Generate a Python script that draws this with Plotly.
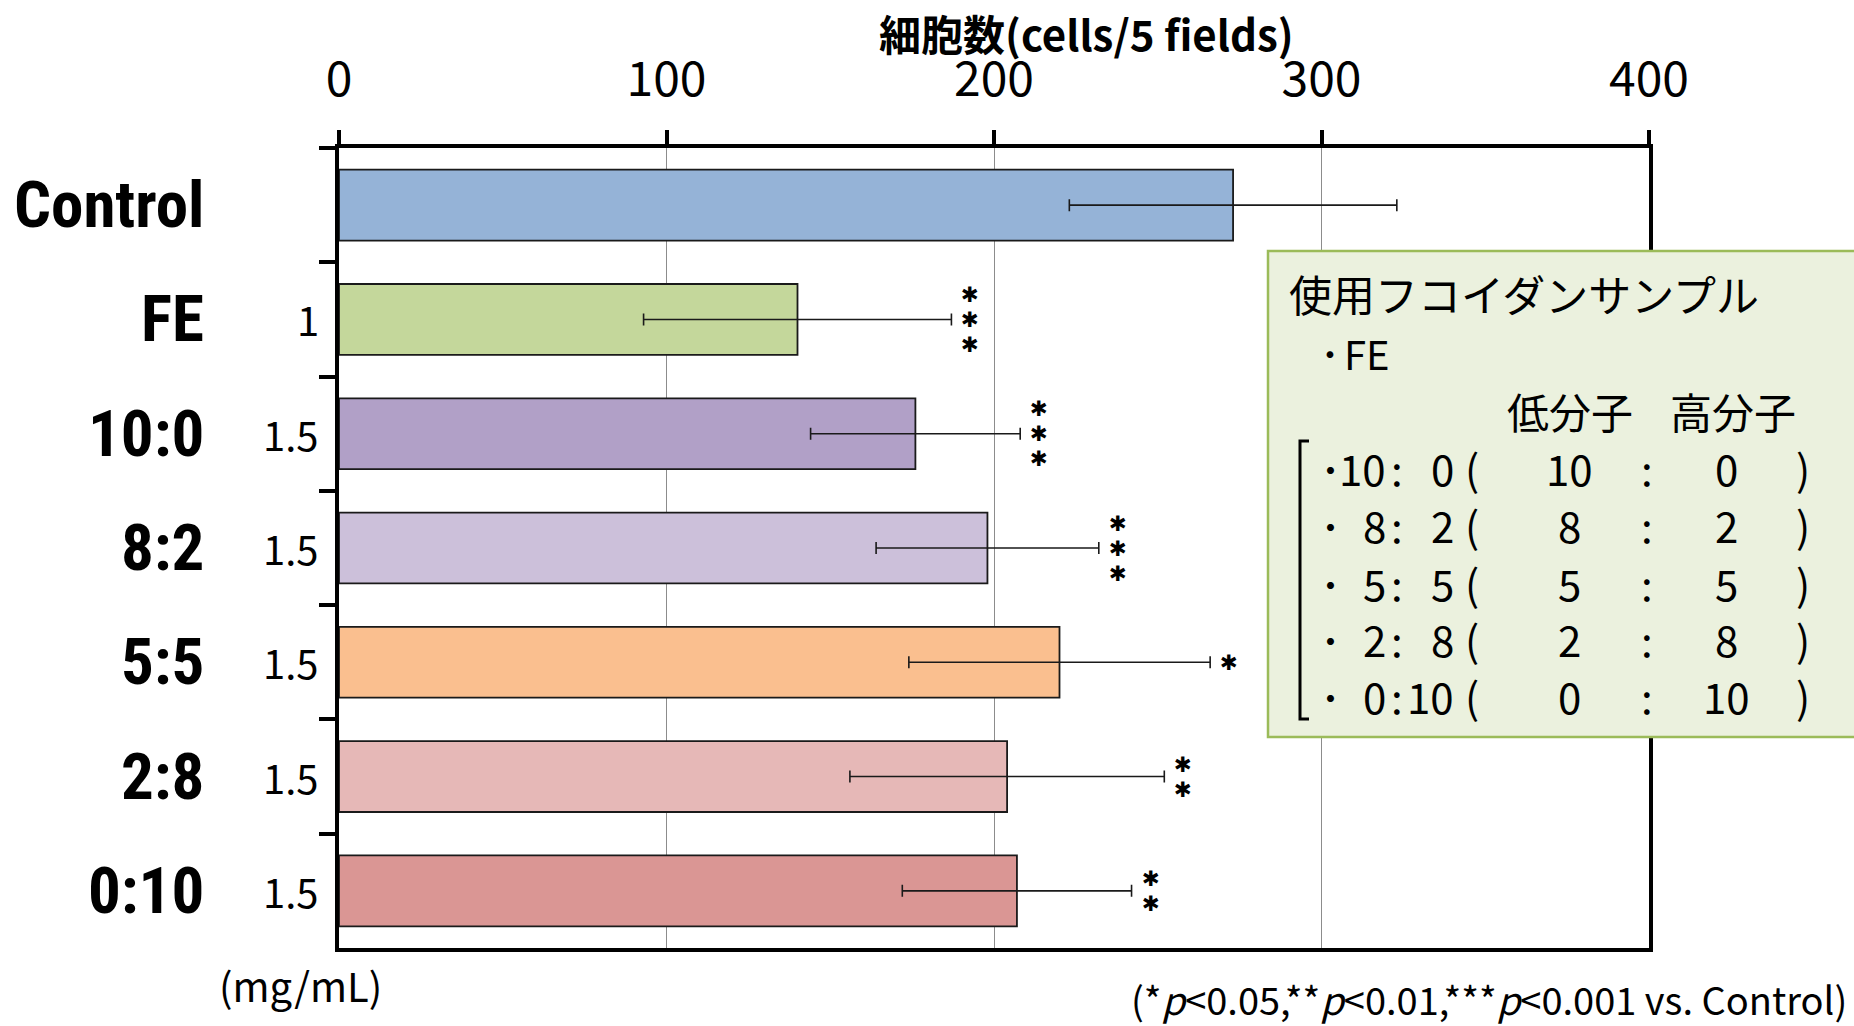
import plotly.graph_objects as go

# ---- data ----
categories = ["Control", "FE", "10:0", "8:2", "5:5", "2:8", "0:10"]
doses = ["", "1", "1.5", "1.5", "1.5", "1.5", "1.5"]
cell_counts = [273, 140, 176, 198, 220, 204, 207]
cell_sd = [50, 47, 32, 34, 46, 48, 35]
significance = ["", "***", "***", "***", "*", "**", "**"]
bar_colors = ["#95B3D7", "#C4D79B", "#B1A0C7", "#CCC0DA", "#FABF8F", "#E6B8B7", "#DA9694"]

x_ticks = [0, 100, 200, 300, 400]

legend_title = "使用フコイダンサンプル"
legend_fe = "FE"
legend_header = ["低分子", "高分子"]
low_mw = [10, 8, 5, 2, 0]
high_mw = [0, 2, 5, 8, 10]

# ---- figure geometry (pixels) ----
W, H = 1854, 1026
L, R, T, B = 339, 1649, 148, 948
PW, PH = R - L, B - T


def px(xp):
    return (xp - L) / PW


def py(yp):
    return (B - yp) / PH


JP = "Noto Sans CJK JP"
NARROW = "Roboto Condensed, Liberation Sans Narrow, Noto Sans CJK JP, sans-serif"

fig = go.Figure()
fig.add_trace(go.Bar(
    y=categories,
    x=cell_counts,
    orientation="h",
    marker=dict(color=bar_colors, line=dict(color="#1a1a1a", width=1.8)),
    error_x=dict(type="data", array=cell_sd, visible=True,
                 color="#1a1a1a", thickness=1.6, width=6),
    showlegend=False,
    hoverinfo="skip",
))

annotations = []

# category names and doses on the left
for cat, dose in zip(categories, doses):
    annotations.append(dict(
        x=px(206), y=cat, xref="paper", yref="y", text=cat, showarrow=False,
        xanchor="right", yanchor="middle",
        font=dict(family=NARROW, size=65, color="black", weight="bold"),
    ))
    if dose:
        annotations.append(dict(
            x=px(321), y=cat, xref="paper", yref="y", text=dose, showarrow=False,
            xanchor="right", yanchor="middle",
            font=dict(family=JP, size=40, color="black"),
        ))

# significance stars, stacked vertically beside each error bar
STAR_GAP = 25
for cat, v, sd, sig in zip(categories, cell_counts, cell_sd, significance):
    n = len(sig)
    for i in range(n):
        annotations.append(dict(
            x=v + sd, y=cat, xref="x", yref="y", text="✱", showarrow=False,
            xanchor="left", yanchor="middle", xshift=8,
            yshift=((n - 1) / 2 - i) * STAR_GAP,
            font=dict(family="DejaVu Sans", size=21.4, color="black"),
        ))

# axis title above the tick labels
annotations.append(dict(
    x=px(1086), y=py(33), xref="paper", yref="paper",
    text="<b>細胞数(cells/5 fields)</b>", showarrow=False,
    xanchor="center", yanchor="middle",
    font=dict(family=JP, size=42, color="black"),
))

# unit label and footnote
annotations.append(dict(
    x=px(300), y=py(985), xref="paper", yref="paper", text="(mg/mL)",
    showarrow=False, xanchor="center", yanchor="middle",
    font=dict(family=JP, size=40, color="black"),
))
annotations.append(dict(
    x=px(1849), y=py(998), xref="paper", yref="paper",
    text="(*<i>p</i>&lt;0.05,**<i>p</i>&lt;0.01,***<i>p</i>&lt;0.001 vs. Control)",
    showarrow=False, xanchor="right", yanchor="middle",
    font=dict(family=JP, size=38, color="black"),
))

# ---- sample legend box ----
LF = dict(family=JP, size=42, color="black")
annotations.append(dict(
    x=px(1287), y=py(293), xref="paper", yref="paper", text=legend_title,
    showarrow=False, xanchor="left", yanchor="middle", font=dict(family=JP, size=43, color="black"),
))
annotations.append(dict(
    x=px(1330), y=py(353), xref="paper", yref="paper", text="･",
    showarrow=False, xanchor="center", yanchor="middle", font=dict(family=JP, size=40, color="black"),
))
annotations.append(dict(
    x=px(1342), y=py(353), xref="paper", yref="paper", text=legend_fe,
    showarrow=False, xanchor="left", yanchor="middle", font=dict(family=JP, size=40, color="black"),
))
for text, cx in zip(legend_header, [1570, 1733]):
    annotations.append(dict(
        x=px(cx), y=py(410), xref="paper", yref="paper", text=text,
        showarrow=False, xanchor="center", yanchor="middle", font=LF,
    ))

row_y = [467, 524, 582, 638, 695]
for lo, hi, yy in zip(low_mw, high_mw, row_y):
    pieces = [
        ("･", 1330, "center"),
        (str(lo), 1388, "right"),
        (":", 1397, "center"),
        (str(hi), 1456, "right"),
        ("(", 1472, "center"),
        (str(lo), 1569, "center"),
        (":", 1647, "center"),
        (str(hi), 1726, "center"),
        (")", 1803, "center"),
    ]
    for text, xx, anchor in pieces:
        annotations.append(dict(
            x=px(xx), y=py(yy), xref="paper", yref="paper", text=text,
            showarrow=False, xanchor=anchor, yanchor="middle", font=LF,
        ))

shapes = [
    dict(type="rect", xref="paper", yref="paper", layer="above",
         x0=px(1268), x1=px(1880), y0=py(251), y1=py(737),
         fillcolor="#EBF1DE", line=dict(color="#9BBB59", width=2.5)),
    dict(type="path", xref="paper", yref="paper", layer="above",
         path=f"M {px(1309)} {py(441)} L {px(1300)} {py(441)} L {px(1300)} {py(719)} L {px(1309)} {py(719)}",
         line=dict(color="black", width=3)),
]

fig.update_layout(
    width=W, height=H,
    margin=dict(l=L, r=W - R, t=T, b=H - B, pad=0),
    paper_bgcolor="white", plot_bgcolor="white",
    bargap=0.38,
    xaxis=dict(
        side="top", range=[0, 400], tickvals=x_ticks, ticktext=[str(t) for t in x_ticks],
        ticks="outside", ticklen=14, tickwidth=4, tickcolor="black",
        showline=True, linewidth=4, linecolor="black", mirror=True,
        showgrid=True, gridcolor="#8c8c8c", gridwidth=1.3, zeroline=False,
        tickfont=dict(family=JP, size=48, color="black"),
        ticklabelstandoff=15,
    ),
    yaxis=dict(
        autorange="reversed", type="category", tickson="boundaries",
        ticks="outside", ticklen=16, tickwidth=4, tickcolor="black",
        showline=True, linewidth=4, linecolor="black", mirror=True,
        showgrid=False, zeroline=False, showticklabels=False,
    ),
    annotations=annotations,
    shapes=shapes,
)

fig.write_html("out.html")
